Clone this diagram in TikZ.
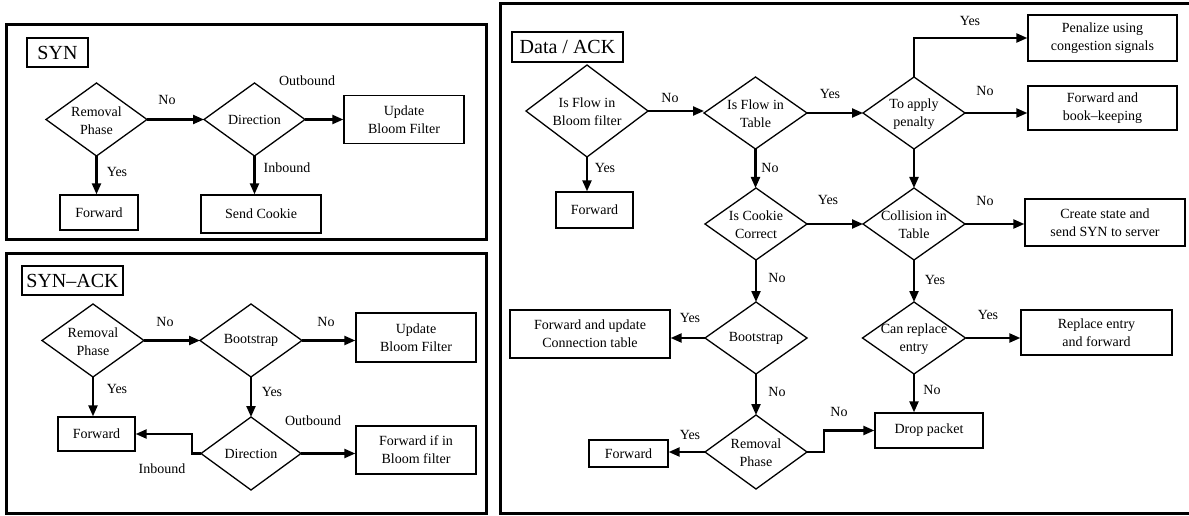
\documentclass[tikz,border=0pt]{standalone}
\usepackage{fontspec}
\setmainfont{Liberation Serif}
\usetikzlibrary{shapes.geometric,arrows.meta}
\begin{document}
\begin{tikzpicture}[x=1pt,y=-1pt,
  txt/.style={font=\fontsize{14}{18}\selectfont, align=center, inner sep=0},
  lab/.style={font=\fontsize{14}{18}\selectfont, inner sep=0},
  box/.style args={#1x#2}{draw, line width=1.3pt, minimum width=#1pt, minimum height=#2pt, inner sep=0, font=\fontsize{14}{18}\selectfont, align=center},
  dia/.style args={#1x#2}{draw, diamond, line width=1.3pt, minimum width=#1pt, minimum height=#2pt, inner sep=0, outer sep=0},
  ttl/.style args={#1x#2}{draw, line width=1.3pt, minimum width=#1pt, minimum height=#2pt, inner sep=0, font=\fontsize{20}{24}\selectfont},
  arr/.style={line width=2.2pt, -{Triangle[length=11pt,width=9pt]}},
  panel/.style={draw, line width=3pt}]
\useasboundingbox (0,0) rectangle (1189,516);
\fill[white] (0,0) rectangle (1189,516);

% ---------------- Panel SYN ----------------
\draw[panel] (6.5,25) rectangle (486.5,239);
\node[ttl=61x29] (t1) at (57.5,52.5) {SYN};
\node[dia=101x73] (r1) at (96.5,119.5) {};
\node[txt] at (96.5,121) {Removal\\Phase};
\node[dia=101x73] (d1) at (254.5,119.5) {};
\node[txt] at (254.5,119.5) {Direction};
\node[box=120x48] (u1) at (404,119.5) {Update\\Bloom Filter};
\node[box=78x35] (f1) at (99,212.5) {Forward};
\node[box=120x38] (s1) at (261,214) {Send Cookie};
\draw[arr] (r1.east) -- (d1.west);
\draw[arr] (d1.east) -- (u1.west);
\draw[arr] (r1.south) -- (r1.south |- f1.north);
\draw[arr] (d1.south) -- (d1.south |- s1.north);
\node[lab] at (167,100) {No};
\node[lab] at (307,81) {Outbound};
\node[lab] at (117,172) {Yes};
\node[lab] at (287,168) {Inbound};

% ---------------- Panel SYN-ACK ----------------
\draw[panel] (6.5,253.5) rectangle (486.5,513.5);
\node[ttl=101x29] (t2) at (72.5,280.5) {SYN–ACK};
\node[dia=102x73] (r2) at (93,340.5) {};
\node[txt] at (93,342) {Removal\\Phase};
\node[dia=102x73] (b2) at (251,340.5) {};
\node[txt] at (251,340.5) {Bootstrap};
\node[box=120x49] (u2) at (416,337.5) {Update\\Bloom Filter};
\node[box=77x34] (f2) at (96.5,434) {Forward};
\node[dia=100x73] (d2) at (251,453.5) {};
\node[txt] at (251,453.5) {Direction};
\node[box=120x48] (fb2) at (416,450) {Forward if in\\Bloom filter};
\coordinate (k2) at (192,453.5);
\draw[arr] (r2.east) -- (b2.west);
\draw[arr] (b2.east) -- (b2.east -| u2.west);
\draw[arr] (r2.south) -- (r2.south |- f2.north);
\draw[arr] (b2.south) -- (d2.north);
\draw[arr] (d2.west) -- (k2) |- (f2.east);
\draw[arr] (d2.east) -- (d2.east -| fb2.west);
\node[lab] at (165,322) {No};
\node[lab] at (326,322) {No};
\node[lab] at (117,389) {Yes};
\node[lab] at (272,392) {Yes};
\node[lab] at (313,421) {Outbound};
\node[lab] at (162,469) {Inbound};

% ---------------- Panel Data / ACK ----------------
\draw[panel] (1200,3.5) -- (500,3.5) -- (500,513.5) -- (1200,513.5);
\node[ttl=111x30] (t3) at (567.5,47) {Data / ACK};
\node[dia=122x92] (ib) at (587,111) {};
\node[txt] at (587,112) {Is Flow in\\Bloom filter};
\node[dia=103x72] (it) at (755.5,113) {};
\node[txt] at (755.5,114) {Is Flow in\\Table};
\node[box=77x36] (f3) at (594.5,210) {Forward};
\node[dia=102x72] (ic) at (756,224) {};
\node[txt] at (756,225) {Is Cookie\\Correct};
\node[dia=102x72] (ap) at (914,113) {};
\node[txt] at (914,114) {To apply\\penalty};
\node[box=149x46] (pe) at (1102.5,38) {Penalize using\\congestion signals};
\node[box=149x44] (fk) at (1102.5,108) {Forward and\\book–keeping};
\node[dia=102x72] (co) at (914,224) {};
\node[txt] at (914,225) {Collision in\\Table};
\node[box=160x47] (cs) at (1105,222.5) {Create state and\\send SYN to server};
\node[dia=102x72] (b3) at (756,338) {};
\node[txt] at (756,338) {Bootstrap};
\node[box=160x48] (fu) at (590,334) {Forward and update\\Connection table};
\node[dia=102x74] (r3) at (756,452) {};
\node[txt] at (756,453) {Removal\\Phase};
\node[box=79x27] (f4) at (628.5,453.5) {Forward};
\node[dia=103x72] (cr) at (914,338) {};
\node[txt] at (914,339) {Can replace\\entry};
\node[box=151x45] (re) at (1096.5,332.5) {Replace entry\\and forward};
\node[box=108x35] (dp) at (929,430.5) {Drop packet};
\coordinate (k3) at (824,452);

\draw[arr] (ib.east) -- (ib.east -| it.west);
\draw[arr] (ib.south) -- (ib.south |- f3.north);
\draw[arr] (it.east) -- (ap.west);
\draw[arr] (it.south) -- (it.south |- ic.north);
\draw[arr] (ic.east) -- (co.west);
\draw[arr] (ic.south) -- (b3.north);
\draw[arr] (ap.north) |- (pe.west);
\draw[arr] (ap.east) -- (ap.east -| fk.west);
\draw[arr] (ap.south) -- (co.north);
\draw[arr] (co.east) -- (co.east -| cs.west);
\draw[arr] (co.south) -- (cr.north);
\draw[arr] (cr.east) -- (cr.east -| re.west);
\draw[arr] (cr.south) -- (cr.south |- dp.north);
\draw[arr] (b3.west) -- (b3.west -| fu.east);
\draw[arr] (b3.south) -- (r3.north);
\draw[arr] (r3.west) -- (r3.west -| f4.east);
\draw[arr] (r3.east) -- (k3) |- (dp.west);

\node[lab] at (670,98) {No};
\node[lab] at (605,168) {Yes};
\node[lab] at (830,94) {Yes};
\node[lab] at (770,168) {No};
\node[lab] at (828,200) {Yes};
\node[lab] at (970,21) {Yes};
\node[lab] at (985,91) {No};
\node[lab] at (985,201) {No};
\node[lab] at (777,278) {No};
\node[lab] at (690,318) {Yes};
\node[lab] at (777,392) {No};
\node[lab] at (690,435) {Yes};
\node[lab] at (839,412) {No};
\node[lab] at (935,280) {Yes};
\node[lab] at (988,315) {Yes};
\node[lab] at (932,390) {No};
\end{tikzpicture}
\end{document}
